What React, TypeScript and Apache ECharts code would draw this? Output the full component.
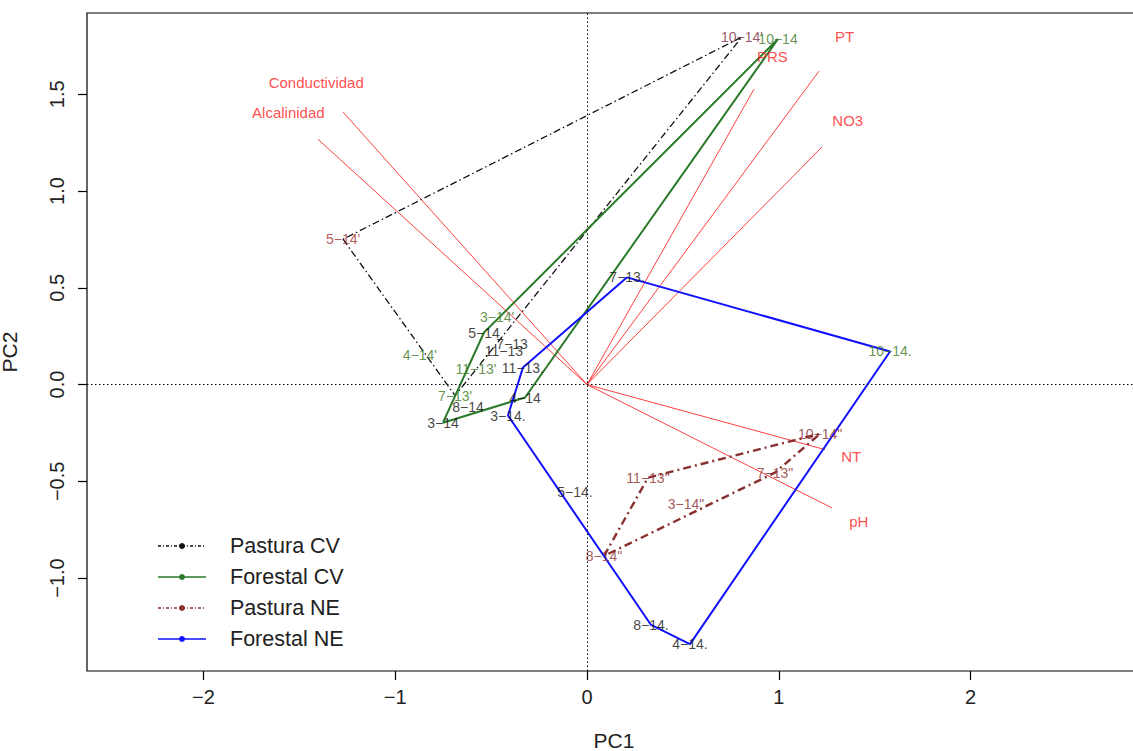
import React, { useEffect, useRef } from "react";
import * as echarts from "echarts";

// ---- Data ----
const pasturaCVLabels = ["10−14'", "5−14'", "4−14'", "3−14'", "11−13'", "7−13'"];
const pasturaCVX = [0.808, -1.272, -0.871, -0.469, -0.579, -0.688];
const pasturaCVY = [1.796, 0.751, 0.155, 0.347, 0.078, -0.057];
const pasturaCVHull = [1, 5, 4, 0, 1];

const forestalCVLabels = ["10−14", "5−14", "7−13", "11−13", "8−14", "3−14", "4−14"];
const forestalCVX = [0.996, -0.537, -0.391, -0.433, -0.62, -0.751, -0.323];
const forestalCVY = [1.786, 0.269, 0.212, 0.176, -0.114, -0.197, -0.067];
const forestalCVHull = [5, 6, 0, 1, 5];

const pasturaNELabels = ['10−14"', '11−13"', '7−13"', '3−14"', '8−14"'];
const pasturaNEX = [1.215, 0.318, 0.98, 0.516, 0.089];
const pasturaNEY = [-0.254, -0.481, -0.455, -0.616, -0.885];
const pasturaNEHull = [4, 1, 0, 2, 4];

const forestalNELabels = ["7−13.", "10−14.", "4−14.", "8−14.", "5−14.", "3−14.", "11−13."];
const forestalNEX = [0.209, 1.58, 0.537, 0.334, -0.063, -0.412, -0.334];
const forestalNEY = [0.554, 0.171, -1.341, -1.242, -0.554, -0.16, 0.088];
const forestalNEHull = [0, 1, 2, 3, 5, 6, 0];

const varNames = ["Conductividad", "Alcalinidad", "PT", "PRS", "NO3", "NT", "pH"];
const varX = [-1.272, -1.403, 1.21, 0.871, 1.225, 1.241, 1.277];
const varY = [1.408, 1.268, 1.62, 1.527, 1.227, -0.336, -0.637];
const varLabelScale = 1.11;

const xTicks = [-2, -1, 0, 1, 2];
const yTicks = [-1, -0.5, 0, 0.5, 1, 1.5];

// ---- Styles ----
const GREEN_TXT = "#3d7a22";
const pasturaCVLabelColors = ["#7b2e3a", "#a33030", GREEN_TXT, GREEN_TXT, GREEN_TXT, GREEN_TXT];
const forestalCVLabelColors = [GREEN_TXT, "#111", "#111", "#111", "#111", "#111", "#111"];
const pasturaNELabelColors = ["#8b2e2e", "#8b2e2e", "#8b2e2e", "#8b2e2e", "#8b2e2e"];
const forestalNELabelColors = ["#111", GREEN_TXT, "#111", "#111", "#111", "#111", "#111"];

const FONT = "'Liberation Sans', Arial, Helvetica, sans-serif";

const groups = [
  {
    name: "Pastura CV",
    labels: pasturaCVLabels, xs: pasturaCVX, ys: pasturaCVY, hull: pasturaCVHull,
    labelColors: pasturaCVLabelColors,
    color: "#111111", width: 1.3, dash: [7, 3, 1.5, 3] as any, legendDash: [3, 2, 1, 2],
  },
  {
    name: "Forestal CV",
    labels: forestalCVLabels, xs: forestalCVX, ys: forestalCVY, hull: forestalCVHull,
    labelColors: forestalCVLabelColors,
    color: "#2a7a2a", width: 2, dash: "solid" as any, legendDash: null,
  },
  {
    name: "Pastura NE",
    labels: pasturaNELabels, xs: pasturaNEX, ys: pasturaNEY, hull: pasturaNEHull,
    labelColors: pasturaNELabelColors,
    color: "#8b3030", width: 2.4, dash: [8, 4, 2, 4] as any, legendDash: [3, 2, 1, 2],
  },
  {
    name: "Forestal NE",
    labels: forestalNELabels, xs: forestalNEX, ys: forestalNEY, hull: forestalNEHull,
    labelColors: forestalNELabelColors,
    color: "#1010ff", width: 2, dash: "solid" as any, legendDash: null,
  },
];

const fmt = (v: number, dec: number) => {
  const s = Math.abs(v).toFixed(dec);
  return v < 0 ? "−" + s : s;
};

export default function App() {
  const ref = useRef<HTMLDivElement>(null);

  useEffect(() => {
    if (!ref.current) return;
    const chart = echarts.init(ref.current, null, { renderer: "svg" });

    const series: any[] = [];

    // zero reference lines
    series.push({
      type: "line",
      data: [],
      silent: true,
      markLine: {
        silent: true,
        symbol: ["none", "none"],
        label: { show: false },
        lineStyle: { type: [1.5, 2.5], color: "#000", width: 1 },
        data: [{ xAxis: 0 }, { yAxis: 0 }],
      },
    });

    // variable vectors
    varNames.forEach((n, i) => {
      series.push({
        type: "line",
        name: "vec-" + n,
        data: [[0, 0], [varX[i], varY[i]]],
        showSymbol: false,
        silent: true,
        lineStyle: { color: "#ff4040", width: 1 },
        z: 2,
      });
    });
    series.push({
      type: "scatter",
      name: "vec-labels",
      silent: true,
      symbolSize: 1,
      itemStyle: { color: "transparent" },
      data: varNames.map((n, i) => ({
        value: [varX[i] * varLabelScale, varY[i] * varLabelScale],
        name: n,
      })),
      label: {
        show: true,
        position: "inside",
        formatter: "{b}",
        color: "#ff2020",
        fontSize: 15,
        fontFamily: FONT,
      },
      z: 5,
    });

    // hulls and labels
    groups.forEach((g) => {
      series.push({
        type: "line",
        name: g.name,
        data: g.hull.map((k) => [g.xs[k], g.ys[k]]),
        showSymbol: false,
        silent: true,
        lineStyle: { color: g.color, width: g.width, type: g.dash },
        z: 3,
      });
      series.push({
        type: "scatter",
        name: g.name + "-labels",
        silent: true,
        symbolSize: 1,
        itemStyle: { color: "transparent" },
        data: g.labels.map((l, i) => ({
          value: [g.xs[i], g.ys[i]],
          name: l,
          label: { color: g.labelColors[i] },
        })),
        label: {
          show: true,
          position: "inside",
          formatter: "{b}",
          fontSize: 14,
          fontFamily: FONT,
        },
        z: 4,
      });
    });

    // legend drawn as graphics
    const legendEls: any[] = [];
    groups.forEach((g, i) => {
      const y = 546 + i * 31;
      legendEls.push({
        type: "line",
        shape: { x1: 158, y1: y, x2: 206, y2: y },
        style: {
          stroke: g.color,
          lineWidth: i === 2 ? 1.6 : 1.3,
          lineDash: g.legendDash || undefined,
        },
        silent: true,
      });
      legendEls.push({
        type: "circle",
        shape: { cx: 182, cy: y, r: 3 },
        style: { fill: g.color },
        silent: true,
      });
      legendEls.push({
        type: "text",
        x: 230,
        y: y,
        style: {
          text: g.name,
          fill: "#222",
          font: `21.5px ${FONT}`,
          textAlign: "left",
          textVerticalAlign: "middle",
        },
        silent: true,
      });
    });

    const option: any = {
      animation: false,
      backgroundColor: "#ffffff",
      grid: {
        left: 87,
        top: 13,
        right: 7,
        bottom: 80,
        show: true,
        borderColor: "#000",
        borderWidth: 1.2,
        containLabel: false,
      },
      xAxis: {
        type: "value",
        min: -2.607,
        max: 2.899,
        splitLine: { show: false },
        axisLine: { show: false, onZero: false },
        axisTick: {
          show: true,
          customValues: xTicks,
          length: 9,
          lineStyle: { color: "#000", width: 1.2 },
        },
        axisLabel: {
          customValues: xTicks,
          formatter: (v: number) => fmt(v, 0),
          fontSize: 20,
          color: "#222",
          fontFamily: FONT,
          margin: 16,
        },
      },
      yAxis: {
        type: "value",
        min: -1.48,
        max: 1.92,
        splitLine: { show: false },
        axisLine: { show: false, onZero: false },
        axisTick: {
          show: true,
          customValues: yTicks,
          length: 9,
          lineStyle: { color: "#000", width: 1.2 },
        },
        axisLabel: {
          customValues: yTicks,
          formatter: (v: number) => fmt(v, 1),
          fontSize: 20,
          color: "#222",
          fontFamily: FONT,
          rotate: 90,
          margin: 20,
        },
      },
      graphic: [
        {
          type: "text",
          x: 614,
          y: 740,
          style: {
            text: "PC1",
            fill: "#222",
            font: `21px ${FONT}`,
            textAlign: "center",
            textVerticalAlign: "middle",
          },
          silent: true,
        },
        {
          type: "text",
          x: 9,
          y: 352,
          rotation: Math.PI / 2,
          style: {
            text: "PC2",
            fill: "#222",
            font: `21px ${FONT}`,
            textAlign: "center",
            textVerticalAlign: "middle",
          },
          silent: true,
        },
        ...legendEls,
      ],
      series,
    };

    chart.setOption(option);
    return () => chart.dispose();
  }, []);

  return (
    <div
      ref={ref}
      style={{
        position: "fixed",
        left: 0,
        top: 0,
        width: 1150,
        height: 751,
        background: "#fff",
      }}
    />
  );
}
